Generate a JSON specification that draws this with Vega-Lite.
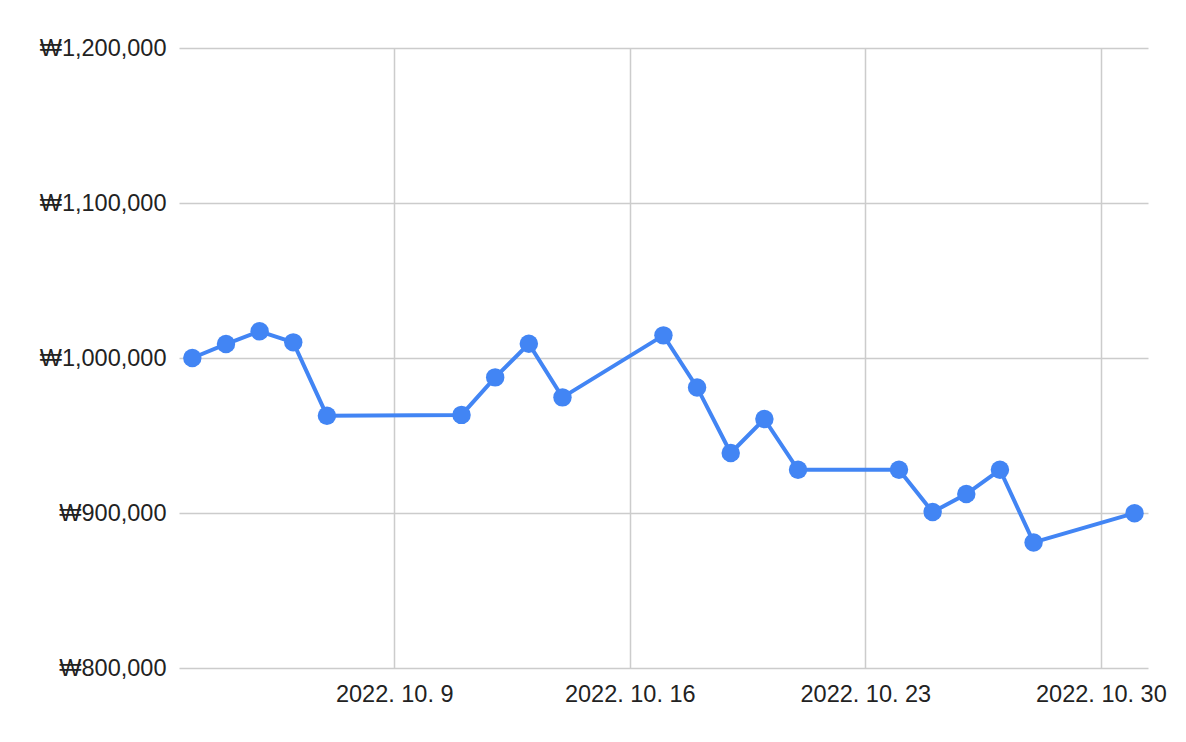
{
  "$schema": "https://vega.github.io/schema/vega-lite/v6.json",
  "width": 969,
  "height": 620,
  "autosize": {"type": "none"},
  "padding": {"left": 179, "top": 48, "right": 38, "bottom": 74},
  "background": "#ffffff",
  "config": {
    "view": {"stroke": null},
    "font": "Liberation Sans",
    "axis": {
      "labelFont": "Liberation Sans",
      "labelFontSize": 23.5,
      "labelColor": "#222222",
      "gridColor": "#cccccc",
      "gridWidth": 1.5,
      "gridOpacity": 1,
      "domain": false,
      "ticks": false,
      "title": null
    }
  },
  "data": {
    "values": [
      {"date": "2022-10-03T00:00:00", "price": 1000000},
      {"date": "2022-10-04T00:00:00", "price": 1009000},
      {"date": "2022-10-05T00:00:00", "price": 1017200},
      {"date": "2022-10-06T00:00:00", "price": 1010100},
      {"date": "2022-10-07T00:00:00", "price": 962800},
      {"date": "2022-10-11T00:00:00", "price": 963300},
      {"date": "2022-10-12T00:00:00", "price": 987500},
      {"date": "2022-10-13T00:00:00", "price": 1009200},
      {"date": "2022-10-14T00:00:00", "price": 974600},
      {"date": "2022-10-17T00:00:00", "price": 1014600},
      {"date": "2022-10-18T00:00:00", "price": 981000},
      {"date": "2022-10-19T00:00:00", "price": 938700},
      {"date": "2022-10-20T00:00:00", "price": 960600},
      {"date": "2022-10-21T00:00:00", "price": 927900},
      {"date": "2022-10-24T00:00:00", "price": 927900},
      {"date": "2022-10-25T00:00:00", "price": 900600},
      {"date": "2022-10-26T00:00:00", "price": 912200},
      {"date": "2022-10-27T00:00:00", "price": 927900},
      {"date": "2022-10-28T00:00:00", "price": 881000},
      {"date": "2022-10-31T00:00:00", "price": 899900}
    ]
  },
  "encoding": {
    "x": {
      "field": "date",
      "type": "temporal",
      "scale": {
        "domain": [
          {"year": 2022, "month": 10, "date": 2, "hours": 14, "minutes": 30},
          {"year": 2022, "month": 10, "date": 31, "hours": 9, "minutes": 36}
        ]
      },
      "axis": {
        "values": [
          {"year": 2022, "month": 10, "date": 9},
          {"year": 2022, "month": 10, "date": 16},
          {"year": 2022, "month": 10, "date": 23},
          {"year": 2022, "month": 10, "date": 30}
        ],
        "labelExpr": "timeFormat(datum.value, '%Y. %-m. %-d')",
        "labelPadding": 14,
        "labelAlign": "center"
      }
    },
    "y": {
      "field": "price",
      "type": "quantitative",
      "scale": {"domain": [800000, 1200000], "nice": false, "zero": false},
      "axis": {
        "values": [800000, 900000, 1000000, 1100000, 1200000],
        "labelExpr": "'₩' + format(datum.value, ',')",
        "labelPadding": 13
      }
    }
  },
  "layer": [
    {"mark": {"type": "line", "color": "#4285F4", "strokeWidth": 4}},
    {"mark": {"type": "point", "filled": true, "color": "#4285F4", "size": 340, "opacity": 1}}
  ]
}
